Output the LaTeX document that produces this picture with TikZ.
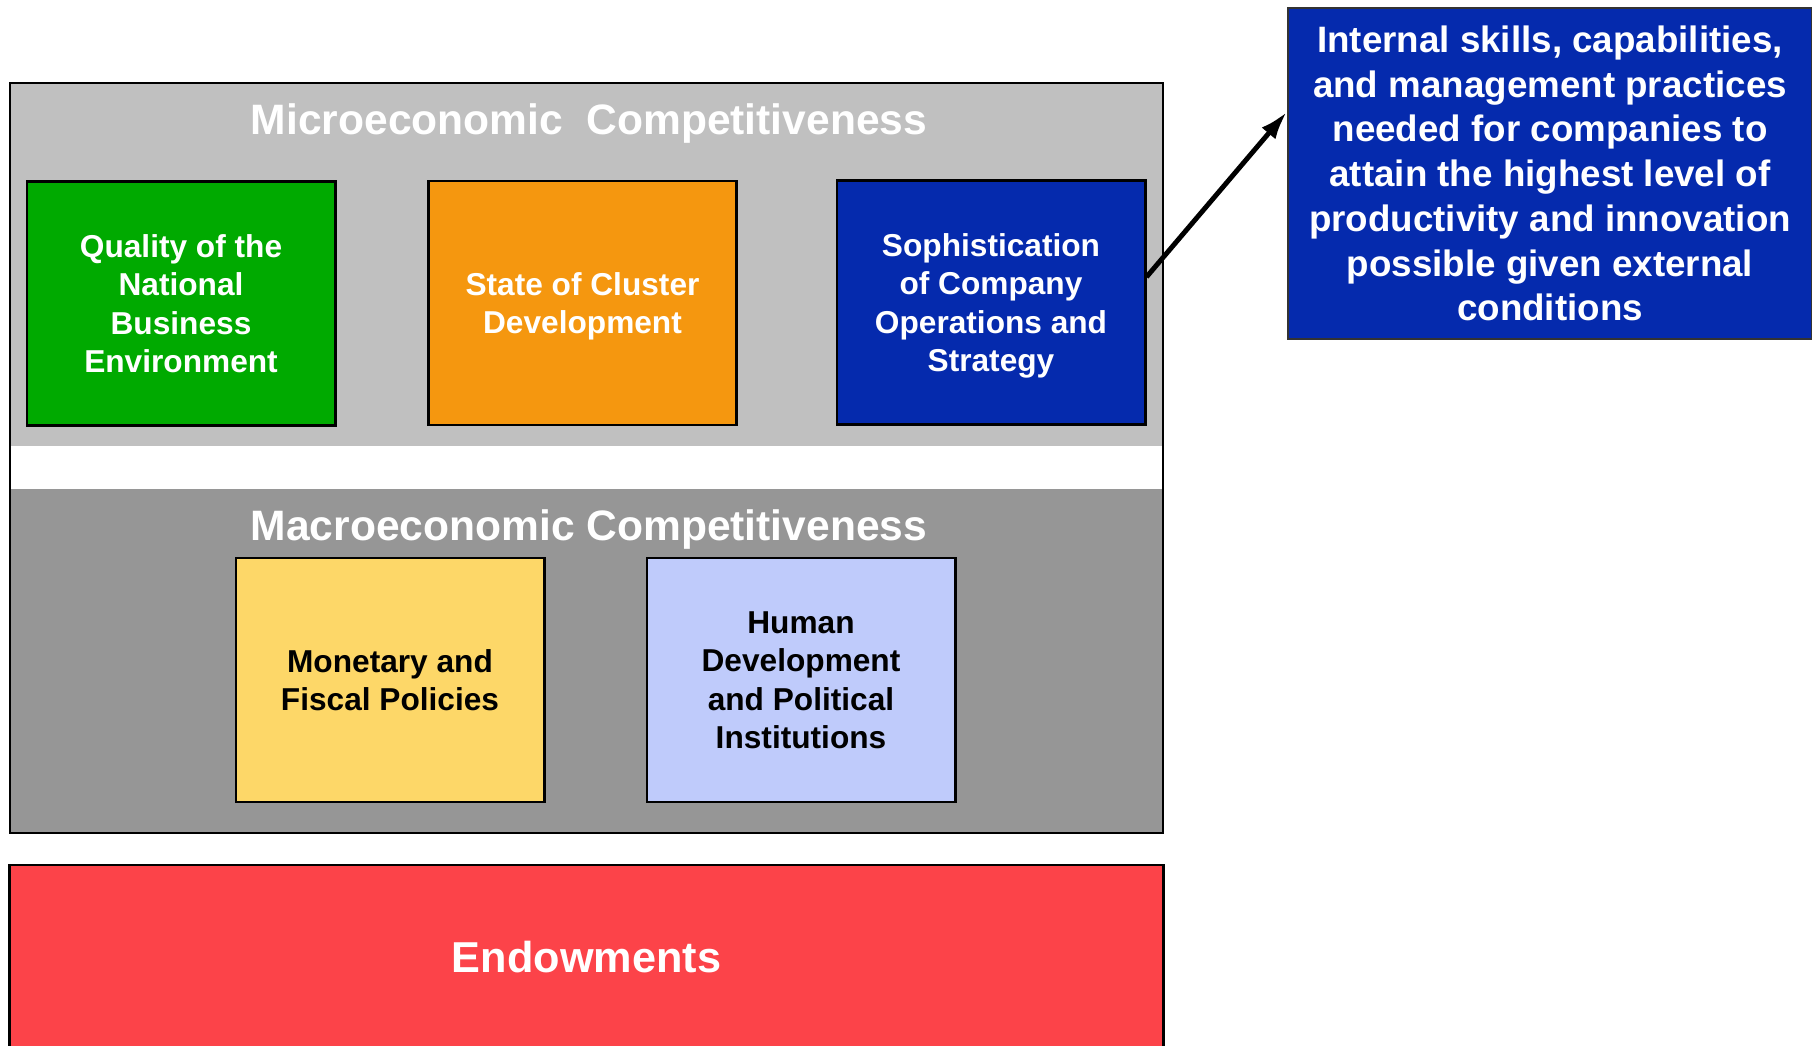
\documentclass[tikz,border=0pt]{standalone}
\usepackage{fontspec}
\setmainfont{Liberation Sans}
\usetikzlibrary{arrows.meta}

\definecolor{microgray}{HTML}{C0C0C0}
\definecolor{macrogray}{HTML}{969696}
\definecolor{qualgreen}{HTML}{00AA00}
\definecolor{clusterorange}{HTML}{F5970F}
\definecolor{stratblue}{HTML}{052AAD}
\definecolor{policyyellow}{HTML}{FDD768}
\definecolor{humanblue}{HTML}{BFCBFB}
\definecolor{endowred}{HTML}{FC4349}

\tikzset{
  factor/.style={draw=black, line width=0.8pt, inner sep=0pt,
    minimum width=3.08cm, minimum height=2.44cm, align=center,
    text depth=0pt, font=\fontsize{9}{10.95}\selectfont\bfseries},
  micro/.style={factor, text=white},
  macro/.style={factor, text=black},
  title/.style={text=white, anchor=base,
    font=\fontsize{12.1}{14}\selectfont\bfseries},
  note/.style={draw=black!80, line width=0.6pt, fill=stratblue, text=white,
    minimum width=5.24cm, minimum height=3.31cm, align=center, inner sep=0pt,
    font=\fontsize{10.45}{12.72}\selectfont\bfseries},
}

\begin{document}
\begin{tikzpicture}[x=0.01cm, y=-0.01cm]
  \useasboundingbox (0,0) rectangle (1812,1046);

  % the two layers of competitiveness
  \fill[microgray] (10,83) rectangle (1163,446);
  \fill[macrogray] (10,489) rectangle (1163,833);
  \draw[line width=0.8pt] (10,83) rectangle (1163,833);

  \node[title] (microtitle) at (589,135) {Microeconomic~ Competitiveness};
  \node[title] (macrotitle) at (589,541) {Macroeconomic Competitiveness};

  \node[micro, fill=qualgreen] (quality) at (181,303.5)
    {Quality of the\\National\\Business\\Environment};
  \node[micro, fill=clusterorange] (cluster) at (582.5,303)
    {State of Cluster\\Development};
  \node[micro, fill=stratblue] (soph) at (991,302.5)
    {Sophistication\\of Company\\Operations and\\Strategy};

  \node[macro, fill=policyyellow] (policy) at (390,680)
    {Monetary and\\Fiscal Policies};
  \node[macro, fill=humanblue] (human) at (801,680)
    {Human\\Development\\and Political\\Institutions};

  % endowments at the base
  \node[draw=black, line width=0.8pt, fill=endowred, text=white,
    minimum width=11.53cm, minimum height=1.85cm, inner sep=0pt,
    font=\fontsize{12.3}{14}\selectfont\bfseries] (endow) at (586.5,957.5)
    {Endowments};

  % explanation of company sophistication
  \node[note] (internal) at (1550,173.5)
    {Internal skills, capabilities,\\and management practices\\needed for companies to\\attain the highest level of\\productivity and innovation\\possible given external\\conditions};

  \draw[line width=1.4pt, -{Latex[length=0.28cm,width=0.18cm]}]
    ([yshift=0.255cm]soph.east) -- ([yshift=0.615cm]internal.west);

\end{tikzpicture}
\end{document}
